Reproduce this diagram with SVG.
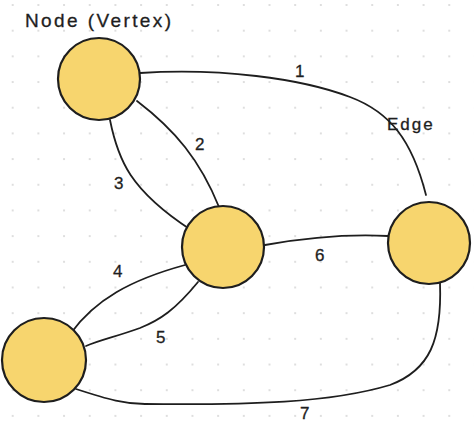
<svg xmlns="http://www.w3.org/2000/svg" width="474" height="434" viewBox="0 0 474 434">
<style>
.node{fill:#f7d56e;stroke:#1e1e1e;stroke-width:2.2}
.edge{fill:none;stroke:#1e1e1e;stroke-width:1.8;stroke-linecap:round}
.lbl{font-family:"Liberation Sans",Arial,sans-serif;font-size:17px;fill:#1e1e1e;stroke:#1e1e1e;stroke-width:0.3}
.ttl{font-family:"Liberation Sans",Arial,sans-serif;font-size:19px;letter-spacing:2.4px;fill:#1e1e1e;stroke:#1e1e1e;stroke-width:0.3}
</style>
<defs>
<pattern id="grid" x="-0.14" y="-7.84" width="25.68" height="25.68" patternUnits="userSpaceOnUse">
<circle cx="12.84" cy="12.84" r="0.9" fill="#cfcfcf"/>
</pattern>
</defs>
<rect width="474" height="434" fill="#ffffff"/>
<rect width="474" height="434" fill="url(#grid)"/>
<g id="connectors">
<path id="e1" class="edge" d="M140 73 C220 68 300 78 350 97 C390 112 412 140 426 195"/>
<path id="e2" class="edge" d="M137 101 C175 130 200 160 219 207"/>
<path id="e3" class="edge" d="M110 120 C118 160 130 190 191 230"/>
<path id="e4" class="edge" d="M185 265 C130 280 95 300 71 333"/>
<path id="e5" class="edge" d="M198 282 C175 310 160 320 140 328 C115 337 100 340 86 346"/>
<path id="e6" class="edge" d="M265 245 C310 237 350 234 388 236"/>
<path id="e7" class="edge" d="M76 389 C110 400 125 404 145 404 C250 405 330 403 390 385 C430 370 442 340 440 283"/>
</g>
<g id="node-a"><circle class="node" cx="99" cy="79" r="41"/></g>
<g id="node-b"><circle class="node" cx="223" cy="247" r="41"/></g>
<g id="node-c"><circle class="node" cx="429" cy="243" r="41"/></g>
<g id="node-d"><circle class="node" cx="44" cy="360" r="42"/></g>
<g id="labels">
<text class="ttl" x="25" y="27">Node (Vertex)</text>
<text class="lbl" x="387" y="130" letter-spacing="2">Edge</text>
<text class="lbl" x="295" y="77">1</text>
<text class="lbl" x="195" y="150">2</text>
<text class="lbl" x="114" y="189">3</text>
<text class="lbl" x="113" y="277">4</text>
<text class="lbl" x="156" y="343">5</text>
<text class="lbl" x="315" y="261">6</text>
<text class="lbl" x="300" y="419">7</text>
</g>
</svg>
